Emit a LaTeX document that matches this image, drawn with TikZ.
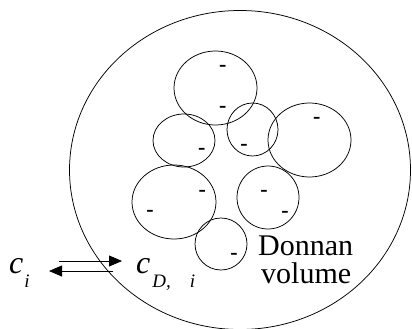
\documentclass[tikz,border=0pt]{standalone}
\usepackage{fontspec}
\setmainfont{Liberation Serif}[
  ItalicFont={Liberation Serif Italic},
  BoldFont={Liberation Serif Bold}]
\usetikzlibrary{arrows.meta}
\begin{document}
\begin{tikzpicture}[x=1pt,y=1pt,
  cell/.style={draw, line width=0.75pt},
  charge/.style={inner sep=0pt, yshift=-0.5pt, font=\fontsize{22}{22}\selectfont\bfseries},
  flux/.style={line width=0.8pt, -{Triangle[length=13pt,width=11pt]}},
  conc/.style={anchor=base west, inner sep=0pt},
  label/.style={anchor=base west, inner sep=0pt, font=\fontsize{30}{30}\selectfont},
]
\useasboundingbox (0,0) rectangle (412,-329);

% outer gel particle
\draw[cell] (240,-170) ellipse [x radius=170.5, y radius=159.5];

% charged domains inside the particle
\draw[cell] (215.5,-88)  ellipse [x radius=41.5, y radius=37];
\draw[cell] (184,-140.5) ellipse [x radius=31,   y radius=26.5];
\draw[cell] (252.5,-129.5) ellipse [x radius=25.5, y radius=26.5];
\draw[cell] (309.5,-140) ellipse [x radius=41.5, y radius=37];
\draw[cell] (268,-197.5) ellipse [x radius=31,   y radius=31.5];
\draw[cell] (174,-202)   ellipse [x radius=42,   y radius=37];
\draw[cell] (221,-244)   ellipse [x radius=26,   y radius=26];

% fixed negative charges
\node[charge] (q1)  at (222.7,-67.7) {-};
\node[charge] (q2)  at (222.7,-109)  {-};
\node[charge] (q3)  at (201.7,-151)  {-};
\node[charge] (q4)  at (244,-147)    {-};
\node[charge] (q5)  at (316.7,-120)  {-};
\node[charge] (q6)  at (264,-193)    {-};
\node[charge] (q7)  at (285,-214)    {-};
\node[charge] (q8)  at (202.3,-193.3) {-};
\node[charge] (q9)  at (150,-213.3)  {-};
\node[charge] (q10) at (234,-256)    {-};

% bulk and Donnan concentrations
\node[conc] (ci) at (9,-273)
  {\fontsize{32}{32}\selectfont\itshape c\kern1pt\raisebox{-14pt}{\fontsize{19}{19}\selectfont\itshape i}};
\node[conc] (cdi) at (136,-273)
  {\fontsize{32}{32}\selectfont\itshape c\kern2pt\raisebox{-14pt}{\fontsize{19}{19}\selectfont\itshape D,\hspace{19pt}i}};

% exchange arrows
\coordinate (inA)  at (59,-261);
\coordinate (inB)  at (122,-261);
\coordinate (outA) at (113,-271);
\coordinate (outB) at (49,-271);
\draw[flux] (inA) -- (inB);
\draw[flux] (outA) -- (outB);

\node[label] (don) at (258,-255) {Donnan};
\node[label] (vol) at (261,-283) {volume};
\end{tikzpicture}
\end{document}
